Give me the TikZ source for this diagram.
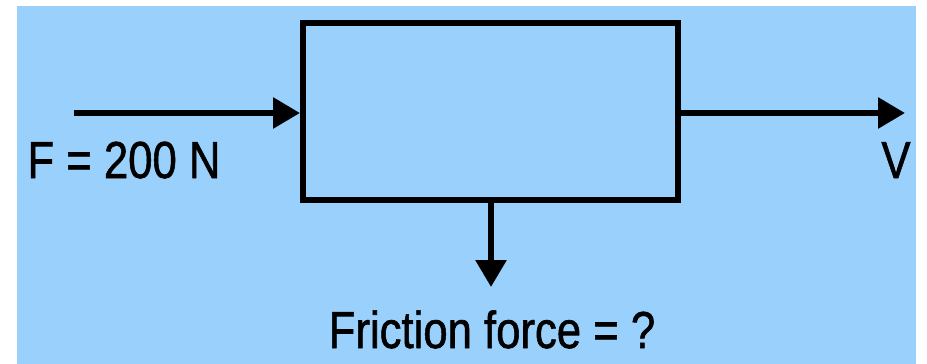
\documentclass[tikz,border=0pt]{standalone}
\usepackage{fontspec}
\setmainfont{Liberation Sans}
\newfontfamily\labelfont[FakeBold=1.2]{Liberation Sans}
\usepackage{tikz}
\usetikzlibrary{arrows.meta,positioning}
\definecolor{skyblue}{RGB}{153,208,252}
\tikzset{
  blockbox/.style={draw=black, line width=3pt, fill=skyblue,
    minimum width=187.5pt, minimum height=88.5pt, inner sep=0pt},
  forcelabel/.style={font=\labelfont\fontsize{26}{30}\selectfont, inner sep=0pt,
    anchor=base, xscale=0.84, transform shape},
  flow/.style={-{Triangle[length=13.5pt, width=15pt]}, line width=3pt}
}
\begin{document}
\begin{tikzpicture}[x=0.5pt, y=-0.5pt]
\useasboundingbox (0,0) rectangle (927,364);
\fill[skyblue] (17,6) rectangle (916,364);

\node[blockbox] (block) at (490.5,111.5) {};
\coordinate (push) at (74,113);
\coordinate (move) at (905,113);
\coordinate (fric) at (491,287);

\draw[flow] (push) -- (block.west |- push);
\draw[flow] (block.east |- move) -- (move);
\draw[flow] (block.south -| fric) -- (fric);

\node[forcelabel] (flabel) at (124,178) {F = 200 N};
\node[forcelabel] (vlabel) at (896,178) {V};
\node[forcelabel] (frlabel) at (492,348) {Friction force = ?};
\end{tikzpicture}
\end{document}
